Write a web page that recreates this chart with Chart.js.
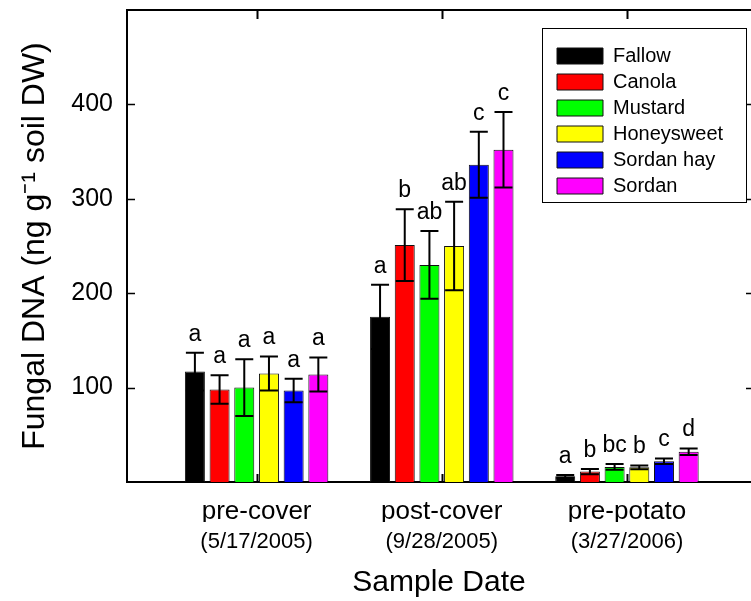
<!DOCTYPE html>
<html>
<head>
<meta charset="utf-8">
<script src="https://cdn.jsdelivr.net/npm/chart.js@4/dist/chart.umd.min.js"></script>
<style>
html,body{margin:0;padding:0;background:#fff;}
#wrap{width:751px;height:601px;}
</style>
</head>
<body>
<div id="wrap"><canvas id="c" width="751" height="601"></canvas></div>
<script>
// ---- data ----
const categories = ['pre-cover', 'post-cover', 'pre-potato'];
const sampleDates = ['(5/17/2005)', '(9/28/2005)', '(3/27/2006)'];
const seriesNames = ['Fallow', 'Canola', 'Mustard', 'Honeysweet', 'Sordan hay', 'Sordan'];
const fallow      = [117, 175, 6];
const canola      = [98, 251, 11];
const mustard     = [100, 230, 16];
const honeysweet  = [115, 250, 15.5];
const sordanHay   = [97, 336, 22];
const sordan      = [114, 352, 32];
const fallowErr     = [20, 34, 1.5];
const canolaErr     = [15, 38, 2.7];
const mustardErr    = [30, 36, 3];
const honeysweetErr = [18, 47, 2];
const sordanHayErr  = [12.5, 35, 3];
const sordanErr     = [18, 40, 3.5];
const fallowSig     = ['a', 'a', 'a'];
const canolaSig     = ['a', 'b', 'b'];
const mustardSig    = ['a', 'ab', 'bc'];
const honeysweetSig = ['a', 'ab', 'b'];
const sordanHaySig  = ['a', 'c', 'c'];
const sordanSig     = ['a', 'c', 'd'];
const yTicks = [100, 200, 300, 400];

// ---- style ----
const FONT = "'Liberation Sans', Arial, Helvetica, sans-serif";
const colors = ['#000000', '#FF0000', '#00FF00', '#FFFF00', '#0000FF', '#FF00FF'];
const values = [fallow, canola, mustard, honeysweet, sordanHay, sordan];
const errors = [fallowErr, canolaErr, mustardErr, honeysweetErr, sordanHayErr, sordanErr];
const sigs = [fallowSig, canolaSig, mustardSig, honeysweetSig, sordanHaySig, sordanSig];
const groupPos = categories.map((_, i) => i + 1);

const datasets = seriesNames.map((name, s) => ({
  label: name,
  data: values[s].map((v, i) => ({x: groupPos[i], y: v})),
  backgroundColor: colors[s],
  borderColor: '#111',
  borderWidth: 1,
  barPercentage: 0.81,
  categoryPercentage: 0.8,
  errs: errors[s],
  sig: sigs[s]
}));

const noPad = s => { s.paddingTop = 0; s.paddingBottom = 0; s.paddingLeft = 0; s.paddingRight = 0; };

const errorBars = {
  id: 'errorBars',
  afterDatasetsDraw(chart) {
    const ctx = chart.ctx;
    const ys = chart.scales.y;
    ctx.save();
    chart.data.datasets.forEach((ds, s) => {
      const meta = chart.getDatasetMeta(s);
      meta.data.forEach((el, i) => {
        const v = ds.data[i].y, e = ds.errs[i];
        const x = el.x;
        const yt = ys.getPixelForValue(v + e);
        const yb = ys.getPixelForValue(Math.max(0, v - e));
        ctx.strokeStyle = '#000';
        ctx.lineWidth = 2;
        ctx.beginPath();
        ctx.moveTo(x, yt); ctx.lineTo(x, yb);
        ctx.moveTo(x - 9, yt); ctx.lineTo(x + 9, yt);
        ctx.moveTo(x - 9, yb); ctx.lineTo(x + 9, yb);
        ctx.stroke();
        ctx.fillStyle = '#000';
        ctx.font = '23px ' + FONT;
        ctx.textAlign = 'center';
        ctx.textBaseline = 'alphabetic';
        ctx.fillText(ds.sig[i], x, yt - 12);
      });
    });
    ctx.restore();
  }
};

const frame = {
  id: 'frame',
  beforeDraw(chart) {
    const lg = chart.legend;
    if (!lg || !lg._box) return;
    const b = lg._box;
    const ctx = chart.ctx;
    ctx.save();
    ctx.fillStyle = '#fff';
    ctx.fillRect(b.l, b.t, b.w, b.h);
    ctx.strokeStyle = '#000';
    ctx.lineWidth = 1;
    ctx.strokeRect(b.l + 0.5, b.t + 0.5, b.w, b.h);
    ctx.restore();
  },
  afterLayout(chart) {
    const lg = chart.legend, ca = chart.chartArea;
    const boxW = 204, boxH = 174;
    const bl = ca.right - 5 - boxW, bt = ca.top + 18;
    lg._box = {l: bl, t: bt, w: boxW, h: boxH};
    lg.left = bl + 9;
    lg.top = bt + 12;
    lg.right = bl + boxW;
    lg.bottom = ca.bottom;
    lg.width = lg.right - lg.left;
    lg.height = lg.bottom - lg.top;
  },
  afterDraw(chart) {
    const ctx = chart.ctx, ca = chart.chartArea;
    const xs = chart.scales.x, ys = chart.scales.y;
    ctx.save();
    ctx.strokeStyle = '#000';
    ctx.lineWidth = 2;
    ctx.beginPath();
    ctx.moveTo(ca.left - 1, ca.top); ctx.lineTo(ca.right, ca.top);
    xs.ticks.forEach(t => {
      const px = Math.round(xs.getPixelForValue(t.value)) + 0.5;
      ctx.moveTo(px, ca.top); ctx.lineTo(px, ca.top + 9);
      ctx.moveTo(px, ca.bottom); ctx.lineTo(px, ca.bottom - 8);
    });
    ctx.stroke();
    ctx.lineWidth = 1.5;
    ctx.beginPath();
    ys.ticks.forEach(t => {
      const py = Math.round(ys.getPixelForValue(t.value)) + 0.5;
      ctx.moveTo(ca.left, py); ctx.lineTo(ca.left + 8, py);
      ctx.moveTo(ca.right - 5, py); ctx.lineTo(ca.right, py);
    });
    ctx.stroke();
    ctx.restore();
  }
};

const xMin = 0.3, xMax = 3.67;

new Chart(document.getElementById('c'), {
  type: 'bar',
  data: {datasets},
  options: {
    responsive: false,
    animation: false,
    devicePixelRatio: 1,
    layout: {padding: {top: 10, right: 0, left: 0, bottom: 0}},
    plugins: {
      tooltip: {enabled: false},
      legend: {
        position: 'chartArea',
        align: 'start',
        labels: {boxWidth: 46, boxHeight: 16, padding: 6, color: '#000', font: {size: 20, family: FONT}}
      }
    },
    scales: {
      x: {
        type: 'linear', position: 'bottom', weight: 1,
        min: xMin, max: xMax, offset: false,
        afterBuildTicks: s => { s.ticks = groupPos.map(v => ({value: v})); },
        afterFit: s => { s.height = 40; noPad(s); },
        ticks: {callback: (v, i) => categories[i], color: '#000', font: {size: 26, family: FONT}, padding: 14, maxRotation: 0, autoSkip: false},
        grid: {display: false, drawTicks: false},
        border: {display: true, color: '#000', width: 2}
      },
      x2: {
        type: 'linear', position: 'bottom', weight: 2,
        min: xMin, max: xMax, offset: false,
        afterBuildTicks: s => { s.ticks = groupPos.map(v => ({value: v})); },
        afterFit: s => { s.height = 79; noPad(s); },
        ticks: {callback: (v, i) => sampleDates[i], color: '#000', font: {size: 22, family: FONT}, padding: 7, maxRotation: 0, autoSkip: false},
        grid: {display: false, drawTicks: false},
        border: {display: false},
        title: {display: true, text: 'Sample Date', color: '#000', font: {size: 30, family: FONT}, padding: {top: 0, bottom: 0}}
      },
      y: {
        min: 0, max: 500,
        afterBuildTicks: s => { s.ticks = yTicks.map(v => ({value: v})); },
        afterFit: s => { s.width = 127; noPad(s); },
        ticks: {color: '#000', font: {size: 25, family: FONT}, padding: 14},
        grid: {display: false, drawTicks: false},
        border: {display: true, color: '#000', width: 2},
        title: {display: true, text: 'Fungal DNA (ng g\u207B\u00B9 soil DW)', color: '#000', font: {size: 32, family: FONT}, padding: {top: 16, bottom: 0}}
      }
    }
  },
  plugins: [errorBars, frame]
});
</script>
</body>
</html>
